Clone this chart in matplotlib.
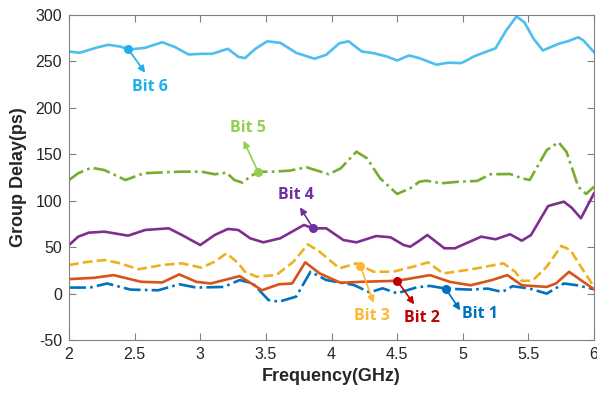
import matplotlib.pyplot as plt
import numpy as np

plt.rcParams['axes.unicode_minus'] = False

# values (GHz, ps)
f1 = [2.00, 2.16, 2.29, 2.47, 2.68, 2.84, 2.97, 3.18, 3.30, 3.40, 3.52, 3.60, 3.73, 3.84,
      3.96, 4.17, 4.29, 4.39, 4.50, 4.65, 4.75, 4.87, 5.06, 5.19, 5.30, 5.38, 5.51, 5.64,
      5.77, 5.87, 6.00]
bit1 = [6.5, 6.5, 10.9, 4.3, 3.6, 10.1, 6.5, 7.2, 14.6, 11.0, -6.9, -8.7, -3.3, 23.6,
        14.6, 9.3, 1.4, 5.7, 0.3, 6.8, 8.3, 5.4, 4.3, 5.4, 1.8, 8.0, 5.4, 0.0,
        10.9, 9.0, 4.7]

f2 = [2.00, 2.19, 2.34, 2.55, 2.71, 2.84, 2.97, 3.08, 3.18, 3.30, 3.39, 3.47, 3.60, 3.70,
      3.80, 3.91, 4.07, 4.22, 4.50, 4.75, 4.90, 5.06, 5.22, 5.34, 5.45, 5.64, 5.71, 5.81,
      5.90, 6.00]
bit2 = [15.6, 17.0, 19.9, 12.7, 12.0, 20.7, 12.7, 10.9, 14.5, 18.8, 10.9, 3.6, 10.1, 10.9,
        33.7, 21.7, 11.6, 12.7, 13.8, 19.9, 12.7, 9.0, 14.5, 19.9, 9.0, 7.2, 10.9, 23.5,
        14.5, 4.7]

f3 = [2.00, 2.12, 2.27, 2.39, 2.53, 2.71, 2.86, 3.01, 3.11, 3.20, 3.29, 3.34, 3.43, 3.58,
      3.71, 3.82, 3.91, 4.06, 4.19, 4.32, 4.47, 4.64, 4.735, 4.85, 5.06, 5.31, 5.40, 5.45,
      5.53, 5.64, 5.75, 5.82, 5.90, 6.00]
bit3 = [30.8, 33.7, 36.2, 32.6, 26.2, 30.8, 32.6, 27.9, 34.4, 43.4, 32.6, 23.6, 18.2, 20.0,
        34.4, 53.1, 45.1, 27.2, 32.6, 23.6, 23.6, 29.7, 33.7, 21.7, 26.0, 32.6, 23.5, 13.8,
        13.8, 29.0, 51.4, 47.0, 29.0, 7.2]

f4 = [2.00, 2.07, 2.15, 2.27, 2.45, 2.58, 2.76, 2.86, 3.00, 3.11, 3.21, 3.29, 3.38, 3.48,
      3.61, 3.79, 3.86, 3.96, 4.09, 4.19, 4.34, 4.45, 4.55, 4.60, 4.67, 4.73, 4.86, 4.94,
      5.14, 5.25, 5.36, 5.45, 5.52, 5.65, 5.77, 5.83, 5.90, 6.00]
bit4 = [52.3, 61.3, 65.6, 66.7, 62.4, 68.5, 70.3, 63.1, 52.3, 63.1, 69.6, 68.5, 59.6, 55.2,
        59.6, 73.9, 70.3, 70.3, 57.7, 55.2, 62.0, 60.6, 52.3, 50.5, 57.0, 63.1, 48.8, 48.8,
        61.3, 58.5, 63.9, 57.0, 63.1, 94.3, 99.0, 92.5, 81.1, 108.0]

f5 = [2.00, 2.07, 2.17, 2.27, 2.43, 2.57, 2.73, 2.86, 3.01, 3.11, 3.20, 3.26, 3.32, 3.38,
      3.44, 3.56, 3.68, 3.81, 3.98, 4.07, 4.19, 4.27, 4.37, 4.50, 4.60, 4.67, 4.72, 4.84,
      4.97, 5.11, 5.21, 5.36, 5.45, 5.51, 5.64, 5.73, 5.79, 5.88, 5.94, 6.00]
bit5 = [122.3, 129.6, 135.6, 133.0, 122.3, 129.6, 130.6, 131.3, 131.3, 128.5, 130.2, 122.3,
        119.5, 125.9, 131.3, 131.3, 132.4, 136.0, 128.5, 134.9, 152.8, 145.7, 124.2, 107.3,
        113.4, 120.5, 121.6, 118.8, 120.5, 121.3, 128.5, 128.8, 124.2, 122.3, 154.6, 162.9,
        152.8, 115.1, 107.3, 115.1]

f6 = [2.00, 2.08, 2.22, 2.30, 2.39, 2.46, 2.58, 2.71, 2.81, 2.91, 3.01, 3.09, 3.21, 3.29,
      3.34, 3.42, 3.51, 3.61, 3.73, 3.87, 3.96, 4.06, 4.13, 4.23, 4.32, 4.42, 4.50, 4.59,
      4.67, 4.80, 4.89, 4.99, 5.09, 5.25, 5.33, 5.41, 5.47, 5.54, 5.61, 5.73, 5.80, 5.88,
      5.92, 6.00]
bit6 = [260.7, 259.3, 265.3, 267.9, 266.0, 262.8, 264.7, 270.7, 265.3, 257.5, 258.2, 258.2,
        263.6, 255.0, 253.5, 263.6, 271.7, 270.0, 259.3, 252.9, 257.2, 269.6, 271.7, 260.7,
        258.9, 255.4, 251.0, 256.4, 253.5, 246.5, 248.6, 248.2, 255.7, 264.2, 283.2, 298.5,
        292.0, 274.3, 261.8, 269.0, 271.7, 276.0, 272.5, 260.0]

labels = ['Bit 1', 'Bit 2', 'Bit 3', 'Bit 4', 'Bit 5', 'Bit 6']
# marker point, arrow tip, label position
mark_pts = [(4.87, 5.4), (4.50, 13.8), (4.22, 30.0), (3.86, 70.3), (3.44, 131.3), (2.45, 263.5)]
tip_pts = [(4.98, -18.0), (4.63, -11.6), (4.32, -10.0), (3.76, 92.9), (3.33, 164.7), (2.58, 237.8)]
text_pts = [(5.13, -22.0), (4.69, -26.0), (4.31, -24.0), (3.73, 106.0), (3.36, 178.0), (2.62, 222.0)]

line_colors = ['#0072BD', '#D95319', '#EDB120', '#7E2F8E', '#77AC30', '#4DBEEE']
note_colors = ['#0070C0', '#C00000', '#FFB733', '#7030A0', '#92D050', '#1FB0EA']
styles = ['-.', '-', '--', '-', '-.', '-']

fig = plt.figure(figsize=(5.97, 4.01), dpi=100)
ax = fig.add_axes([0.1156, 0.152, 0.8794, 0.8106])

xs = [f1, f2, f3, f4, f5, f6]
ys = [bit1, bit2, bit3, bit4, bit5, bit6]
for i in range(6):
    ax.plot(xs[i], ys[i], styles[i], color=line_colors[i], lw=1.9,
            solid_joinstyle='round', dash_joinstyle='round')

for i in range(6):
    ax.plot(*mark_pts[i], 'o', color=note_colors[i], ms=5.5, zorder=5)
    ax.annotate('', xy=tip_pts[i], xytext=mark_pts[i],
                arrowprops=dict(arrowstyle='-|>', color=note_colors[i], lw=1.2,
                                mutation_scale=10, shrinkA=0, shrinkB=0))
    ax.text(*text_pts[i], labels[i], color=note_colors[i], fontsize=11.5,
            fontweight='bold', family='Open Sans', ha='center', va='center')

ax.set_xlim(2, 6)
ax.set_ylim(-50, 300)
ax.set_xticks(np.arange(2, 6.01, 0.5))
ax.set_xticklabels(['2', '2.5', '3', '3.5', '4', '4.5', '5', '5.5', '6'])
ax.set_yticks(np.arange(-50, 301, 50))
ax.tick_params(direction='in', top=True, right=True, length=5, width=0.8,
               color='#808080', labelcolor='#262626', labelsize=11.5, pad=5)
for lab in ax.get_xticklabels() + ax.get_yticklabels():
    lab.set_family('Liberation Sans')
for s in ax.spines.values():
    s.set_color('#808080')
    s.set_linewidth(0.8)

ax.set_xlabel('Frequency(GHz)', fontsize=13, fontweight='bold', family='Liberation Sans',
              color='#262626', labelpad=4)
ax.set_ylabel('Group Delay(ps)', fontsize=13, fontweight='bold', family='Liberation Sans',
              color='#262626', labelpad=6)

fig.savefig('out.png', dpi=100)
